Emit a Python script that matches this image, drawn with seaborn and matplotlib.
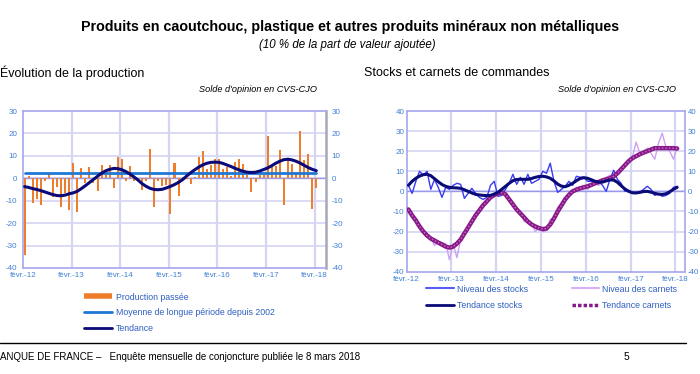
import numpy as np
import pandas as pd
import matplotlib
matplotlib.use("Agg")
import matplotlib.pyplot as plt
import seaborn as sns
from matplotlib.lines import Line2D

# ---------------- data ----------------
months = list(range(73))  # févr. 2012 ... févr. 2018
year_labels = ["févr.-12", "févr.-13", "févr.-14", "févr.-15", "févr.-16", "févr.-17", "févr.-18"]

production = [-34, 1, -11, -9.3, -12, -1, 2, -8.4, -4, -12.7,
              -6.7, -14, 7, -15, 4.5, -2, 5, -2, -5.7, 6,
              2, 6, -4.3, 9.5, 8.8, -1, 5.7, -1.3, -0.5, -5,
              -1.2, 13, -12.7, -1, -3.6, -3, -15.8, 6.9, -7.8, 0.5,
              -0.5, -2.7, 0.5, 9.4, 12, 4.3, 5.8, 8.5, 8.5, 4,
              5, 1, 7.2, 8.5, 6.4, 1.3, -6, -1.6, 1.6, 1.6,
              19, 5.5, 5.5, 12.5, -12, 8, 6.4, 3, 21, 8,
              11, -13.5, -4.3]
moyenne = 2.2
tendance_prod = [-3.7, -4.1, -4.6, -5.0, -5.5, -6.1, -6.7, -7.3, -7.7, -7.8,
                 -7.5, -6.9, -6.5, -5.8, -4.6, -3.3, -1.9, -0.5, 0.9, 2.3,
                 3.3, 4.0, 4.4, 4.3, 3.8, 3.0, 1.9, 0.6, -0.8, -2.4,
                 -3.6, -4.5, -5.0, -5.1, -4.9, -4.3, -3.6, -2.8, -1.8, -0.6,
                 1.0, 2.5, 3.8, 5.0, 6.0, 6.7, 7.1, 7.2, 7.1, 6.6,
                 5.9, 5.2, 4.4, 3.7, 3.1, 2.7, 2.6, 2.7, 3.2, 3.9,
                 4.6, 5.6, 6.7, 7.6, 8.3, 8.5, 8.2, 7.6, 6.8, 5.8,
                 4.8, 4.0, 3.4]

stocks = [3, -1, 5, 10, 8, 10, 1, 6, 2, -3,
          2, 1, 3, 4, 3.5, -3.5, -1, 1.5, -1, -3,
          -4, -3, 3, 5, -2.5, -2, 1, 4, 8.5, 3.5,
          7, 3.5, 8.5, 4, 5, 6, 10, 9, 14, 5,
          -0.5, 1, 2.5, 5, 3, 7.5, 7, 7, 5, 5,
          4, 5, 3, 0, 6, 10.5, 6, 4, 0, 0.5,
          -0.5, -1, -0.5, 1, 2.5, 1, -2, -1, -2.5, -2,
          -1, 2, 2.5]
tendance_stocks = [3.0, 5.0, 6.5, 7.6, 8.3, 8.5, 7.8, 6.3, 4.8, 3.4,
                   2.5, 2.0, 1.8, 1.7, 1.5, 0.8, 0.0, -0.8, -1.5, -1.8,
                   -2.0, -2.1, -2.0, -1.4, -0.5, 1.0, 2.5, 4.0, 5.3, 5.9,
                   6.0, 6.0, 6.0, 6.4, 7.0, 7.4, 7.5, 7.2, 6.5, 5.2,
                   3.6, 2.6, 2.3, 3.0, 4.0, 5.3, 6.4, 6.8, 6.5, 5.8,
                   5.0, 4.6, 4.6, 5.2, 5.7, 5.6, 4.5, 2.8, 1.2, 0.0,
                   -0.7, -0.8, -0.5, -0.1, 0.0, -0.4, -1.0, -1.4, -1.5, -1.2,
                   -0.2, 1.0, 2.0]
carnets = [-9, -13, -15, -18, -20, -21, -23, -27, -25, -25.5,
           -26, -34, -26, -33, -24, -20, -17, -14, -12, -9,
           -6, -6, -3, -1, -0.5, 1, 0, -4, -7, -9,
           -10, -15, -15, -16, -20, -18, -20, -19.5, -14, -13,
           -8, -6, -4, -2, 0, 2, 2, 3, 1, 3,
           4, 3, 5, 7, 8, 6, 9, 11, 13, 15,
           17, 24.5, 19, 20, 21.5, 19, 16, 24, 29, 22,
           20, 16, 22]
tendance_carnets = [-9, -12, -14.5, -17.5, -20, -22, -23.5, -24.5, -25.5, -26.5,
                    -27.5, -28, -27.5, -26, -24, -21, -18, -15, -12, -9.5,
                    -7, -5, -3, -1.8, -1, -0.5, -1.5, -4, -6.5, -9,
                    -11, -13, -15, -16.5, -17.5, -18.3, -18.8, -18.5, -16.5, -13.5,
                    -10, -7, -4, -1.8, 0, 0.8, 1.5, 2, 2.5, 3.2,
                    4, 4.7, 5.5, 6, 6.5, 7.5, 9, 11, 13, 15,
                    16.5, 17.5, 18.5, 19.3, 20, 20.8, 21.5, 21.5, 21.5, 21.5,
                    21.5, 21.5, 21.3]

df = pd.DataFrame({"m": months, "prod": production, "tend": tendance_prod,
                   "stocks": stocks, "tstocks": tendance_stocks,
                   "carnets": carnets, "tcarnets": tendance_carnets})

# ---------------- style ----------------
sns.set_theme(style="white")
plt.rcParams["font.family"] = ["Liberation Sans", "DejaVu Sans"]
plt.rcParams["axes.unicode_minus"] = False

GRID = "#d4d4f4"
FRAME = "#a6a6ee"
TICKC = "#3f7fd4"
LEGC = "#2f5fc0"
ORANGE = "#EE7E2C"

fig = plt.figure(figsize=(7.0, 3.74), dpi=100)

def px(x, y):
    return x / 700.0, 1 - y / 374.0

axL = fig.add_axes([23 / 700, 1 - 268 / 374, 303 / 700, 157 / 374])
axR = fig.add_axes([406.7 / 700, 1 - 271.7 / 374, 278.3 / 700, 160.7 / 374])

def style_axes(ax, ylo, yhi, xlim, grid_x, pad_l, pad_r):
    ax.set_xlim(*xlim)
    ax.set_ylim(ylo, yhi)
    ax.set_yticks(list(range(ylo, yhi + 1, 10)))
    ax.set_yticklabels([str(v) for v in range(ylo, yhi + 1, 10)])
    for yv in range(ylo + 10, yhi, 10):
        ax.axhline(yv, color=GRID, lw=1.2, zorder=0)
    for xv in grid_x[1:]:
        ax.axvline(xv, color=GRID, lw=1.6, zorder=0)
    ax.axhline(0, color="#9a9aea", lw=1.0, zorder=1)
    ax.set_xticks(grid_x)
    ax.set_xticklabels(year_labels)
    ax.tick_params(axis="x", length=0, pad=3, labelsize=5.8, colors=TICKC)
    ax.tick_params(axis="y", length=0, labelsize=5.8, colors=TICKC,
                   left=False, right=False, labelleft=True, labelright=True)
    for t in ax.yaxis.get_major_ticks():
        t.set_pad(pad_l)
    ax.yaxis.set_tick_params(which="major", pad=pad_l)
    for s in ax.spines.values():
        s.set_color(FRAME)
        s.set_linewidth(1.2)
    ax.set_xlabel("")
    ax.set_ylabel("")

def right_pad(ax, pad):
    for t in ax.yaxis.get_major_ticks():
        t.label2.set_x(1.0)
        t.label2.set_transform(ax.get_yaxis_transform(which="tick2")
                               + matplotlib.transforms.ScaledTranslation(pad / 72, 0, fig.dpi_scale_trans))

# ---------------- left chart ----------------
sns.barplot(data=df, x="m", y="prod", order=months, width=0.5,
            color=ORANGE, saturation=1, errorbar=None, ax=axL,
            linewidth=0, edgecolor="none", zorder=2)
axL.plot([0, 72], [moyenne, moyenne], color="#1f78d4", lw=2.0, zorder=3)
sns.lineplot(x=months, y=tendance_prod, color="#0a0a78", lw=2.2, ax=axL, zorder=4)
gridL = [-0.4 + 12 * k for k in range(7)]
style_axes(axL, -40, 30, (-0.4, 74.4), gridL, 4, 4)
axL.spines["right"].set_color("#a8a8b8")
axL.spines["right"].set_linewidth(1.8)

# ---------------- right chart ----------------
sns.lineplot(data=df, x="m", y="carnets", color="#cfa0f2", lw=1.0, ax=axR, zorder=2)
sns.lineplot(data=df, x="m", y="stocks", color="#3a3af0", lw=1.0, ax=axR, zorder=3)
sns.lineplot(data=df, x="m", y="tcarnets", color="#861a86", lw=3.2, ax=axR, zorder=4)
sns.lineplot(data=df, x="m", y="tcarnets", color="#d46ad4", lw=1.0, ax=axR, zorder=5,
             linestyle=(0, (1, 1.5)))
sns.lineplot(data=df, x="m", y="tstocks", color="#0a0a78", lw=2.2, ax=axR, zorder=6)
gridR = [-0.45 + 12 * k for k in range(7)]
style_axes(axR, -40, 40, (-0.45, 74.1), gridR, 4.5, 1.5)
axR.yaxis.set_tick_params(which="major", pad=4.5)
# tighten right-hand labels of the right chart so they stay inside the picture
for t in axR.yaxis.get_major_ticks():
    t.label2.set_fontsize(5.6)
    t.set_pad(1.8)
for t in axR.yaxis.get_major_ticks():
    t.label1.set_fontsize(5.8)

# ---------------- texts ----------------
fig.text(*px(350, 27), "Produits en caoutchouc, plastique et autres produits minéraux non métalliques",
         ha="center", va="center", fontsize=10.3, fontweight="bold", color="black")
fig.text(*px(347, 45), "(10 % de la part de valeur ajoutée)", ha="center", va="center",
         fontsize=8.3, style="italic", color="black")
fig.text(*px(0, 73), "Évolution de la production", ha="left", va="center", fontsize=9, color="black")
fig.text(*px(317, 90), "Solde d'opinion en CVS-CJO", ha="right", va="center", fontsize=6.6,
         style="italic", color="black")
fig.text(*px(364, 73), "Stocks et carnets de commandes", ha="left", va="center", fontsize=9, color="black")
fig.text(*px(676, 90), "Solde d'opinion en CVS-CJO", ha="right", va="center", fontsize=6.6,
         style="italic", color="black")

# ---------------- legends ----------------
hL = [Line2D([], [], color=ORANGE, lw=4, solid_capstyle="butt"),
      Line2D([], [], color="#1f78d4", lw=2.0),
      Line2D([], [], color="#0a0a78", lw=2.0)]
lL = ["Production passée", "Moyenne de longue période depuis 2002", "Tendance"]
legL = fig.legend(hL, lL, loc="upper left", bbox_to_anchor=px(80, 289), frameon=False,
                  fontsize=6.3, handlelength=3.3, handletextpad=0.4, labelspacing=0.75,
                  borderaxespad=0)
for t in legL.get_texts():
    t.set_color(LEGC)

hR1 = [Line2D([], [], color="#5a5af5", lw=1.5), Line2D([], [], color="#0a0a78", lw=2.0)]
legR1 = fig.legend(hR1, ["Niveau des stocks", "Tendance stocks"], loc="upper left",
                   bbox_to_anchor=px(422, 281), frameon=False, fontsize=6.3,
                   handlelength=3.3, handletextpad=0.3, labelspacing=0.85, borderaxespad=0)
for t in legR1.get_texts():
    t.set_color(LEGC)
hR2 = [Line2D([], [], color="#d8b0f6", lw=1.5),
       Line2D([], [], color="#861a86", lw=2.5, linestyle=(0, (1, 0.6)))]
legR2 = fig.legend(hR2, ["Niveau des carnets", "Tendance carnets"], loc="upper left",
                   bbox_to_anchor=px(568, 281), frameon=False, fontsize=6.3,
                   handlelength=3.1, handletextpad=0.4, labelspacing=0.85, borderaxespad=0)
for t in legR2.get_texts():
    t.set_color(LEGC)

# ---------------- footer ----------------
fig.add_artist(Line2D([0, 686 / 700], [1 - 343 / 374] * 2, color="black", lw=1.0,
                      transform=fig.transFigure))
fig.text(*px(0, 357), "ANQUE DE FRANCE –   Enquête mensuelle de conjoncture publiée le 8 mars 2018",
         ha="left", va="center", fontsize=7, color="black")
fig.text(*px(626, 357), "5", ha="center", va="center", fontsize=7.5, color="black")

fig.savefig("out.png", dpi=100)
